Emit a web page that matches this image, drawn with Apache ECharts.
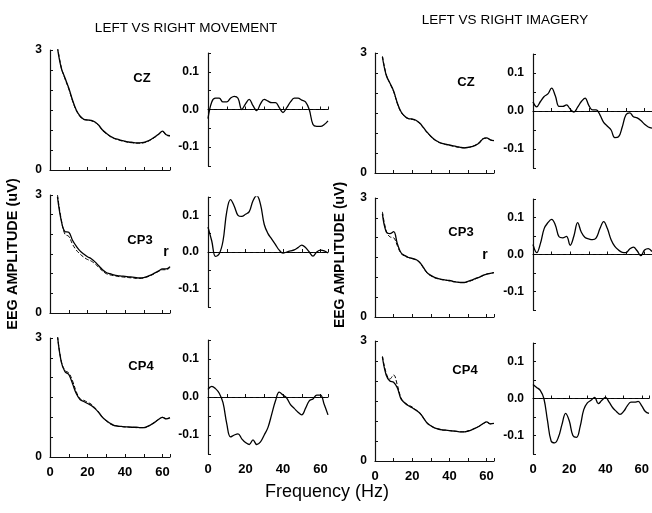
<!DOCTYPE html>
<html>
<head>
<meta charset="utf-8">
<script src="https://cdn.jsdelivr.net/npm/echarts@6/dist/echarts.min.js"></script>
<style>
  html, body { margin: 0; padding: 0; background: #fff; }
  #chart { width: 652px; height: 513px; }
</style>
</head>
<body>
<div id="chart"></div>
<script>
// frequencies (Hz)
const freqAmp = [4,6,8,10,12,14,16,18,20,22,24,26,28,30,32,34,36,38,40,42,44,46,48,50,52,54,56,58,60,62,64];
const freqR = [0,2,4,6,8,10,12,14,16,18,20,22,24,26,28,30,32,34,36,38,40,42,44,46,48,50,52,54,56,58,60,62,64];

// EEG amplitude (uV), left movement/imagery solid, right dashed
const movCzLeft  = [3.05,2.55,2.3,2.05,1.75,1.5,1.35,1.27,1.25,1.24,1.2,1.12,1.0,0.92,0.85,0.8,0.77,0.74,0.72,0.7,0.69,0.68,0.68,0.69,0.72,0.77,0.83,0.9,0.97,0.88,0.86];
const movCzRight = [3.08,2.57,2.28,2.03,1.73,1.49,1.34,1.26,1.25,1.23,1.19,1.11,0.99,0.91,0.84,0.79,0.76,0.73,0.71,0.69,0.68,0.67,0.67,0.68,0.71,0.76,0.82,0.89,0.96,0.87,0.85];
const movCp3Left  = [2.95,2.35,2.07,2.05,1.85,1.7,1.58,1.5,1.43,1.38,1.3,1.2,1.1,1.03,1.0,0.97,0.95,0.94,0.93,0.92,0.91,0.9,0.89,0.9,0.93,0.97,1.02,1.07,1.12,1.12,1.18];
const movCp3Right = [3.0,2.38,2.0,1.95,1.75,1.6,1.5,1.42,1.36,1.32,1.25,1.16,1.07,1.0,0.97,0.95,0.93,0.92,0.91,0.9,0.89,0.88,0.88,0.89,0.92,0.96,1.01,1.06,1.1,1.1,1.16];
const movCp4Left  = [3.05,2.4,2.15,2.08,1.85,1.6,1.45,1.4,1.35,1.3,1.22,1.12,1.0,0.92,0.85,0.8,0.78,0.77,0.76,0.76,0.75,0.75,0.74,0.74,0.77,0.82,0.88,0.95,1.0,0.96,0.99];
const movCp4Right = [3.05,2.42,2.18,2.12,1.92,1.65,1.47,1.43,1.38,1.33,1.24,1.13,1.0,0.91,0.84,0.8,0.78,0.77,0.76,0.75,0.75,0.74,0.74,0.74,0.77,0.82,0.88,0.95,1.0,0.97,0.99];
const imgCzLeft  = [2.9,2.45,2.25,2.05,1.75,1.53,1.42,1.36,1.35,1.32,1.25,1.14,1.02,0.92,0.84,0.78,0.74,0.72,0.7,0.68,0.66,0.64,0.63,0.64,0.66,0.69,0.75,0.85,0.88,0.83,0.81];
const imgCzRight = [2.92,2.47,2.24,2.04,1.74,1.52,1.41,1.36,1.34,1.31,1.24,1.13,1.01,0.91,0.83,0.77,0.74,0.71,0.69,0.67,0.65,0.64,0.63,0.64,0.66,0.7,0.76,0.86,0.87,0.83,0.8];
const imgCp3Left  = [2.6,2.15,2.1,2.15,1.85,1.62,1.55,1.5,1.48,1.45,1.38,1.25,1.12,1.05,1.0,0.97,0.95,0.93,0.92,0.9,0.88,0.87,0.87,0.9,0.93,0.97,1.0,1.05,1.08,1.1,1.12];
const imgCp3Right = [2.65,2.18,2.02,2.0,1.8,1.6,1.54,1.5,1.47,1.44,1.37,1.24,1.11,1.04,0.99,0.96,0.94,0.93,0.91,0.89,0.88,0.87,0.87,0.89,0.92,0.96,1.0,1.04,1.08,1.1,1.12];
const imgCp4Left  = [2.6,2.15,2.0,1.97,1.83,1.55,1.45,1.38,1.33,1.27,1.2,1.08,0.95,0.88,0.83,0.8,0.78,0.77,0.76,0.75,0.74,0.73,0.73,0.75,0.78,0.82,0.87,0.93,0.98,0.93,0.94];
const imgCp4Right = [2.62,2.2,2.05,2.15,1.9,1.58,1.46,1.4,1.35,1.28,1.21,1.08,0.95,0.88,0.83,0.8,0.78,0.77,0.76,0.75,0.74,0.73,0.73,0.75,0.78,0.82,0.87,0.93,0.97,0.93,0.94];

// correlation r, left vs right
const movCzR  = [-0.024,0.02,0.03,0.03,0.02,0.02,0.03,0.035,0.03,0.0,0.015,0.027,0.01,-0.003,0.015,0.027,0.022,0.018,0.018,0.005,-0.008,0.005,0.02,0.03,0.03,0.025,0.02,0.0,-0.04,-0.045,-0.045,-0.04,-0.03];
const movCp3R = [0.068,0.03,-0.012,-0.005,0.03,0.11,0.143,0.125,0.1,0.097,0.103,0.11,0.14,0.154,0.13,0.075,0.05,0.035,0.02,0.005,-0.003,0.0,0.003,0.006,0.012,0.019,0.012,0.0,-0.011,0.0,0.005,0.003,-0.003];
const movCp4R = [0.02,0.028,0.022,0.01,-0.015,-0.07,-0.105,-0.1,-0.097,-0.11,-0.12,-0.125,-0.113,-0.125,-0.118,-0.1,-0.08,-0.045,-0.01,0.013,0.005,-0.003,-0.02,-0.03,-0.04,-0.047,-0.03,-0.01,-0.005,0.005,0.005,-0.02,-0.047];
const imgCzR  = [0.024,0.011,0.025,0.038,0.045,0.06,0.04,0.012,0.012,0.016,0.005,-0.003,0.01,0.025,0.034,0.015,0.003,0.003,-0.01,-0.03,-0.04,-0.05,-0.07,-0.068,-0.042,-0.01,-0.005,-0.015,-0.018,-0.025,-0.035,-0.042,-0.045];
const imgCp3R = [0.027,0.005,0.03,0.07,0.086,0.095,0.08,0.048,0.045,0.049,0.025,0.05,0.086,0.06,0.046,0.042,0.04,0.045,0.07,0.089,0.07,0.04,0.022,0.012,0.006,0.005,0.015,0.02,0.01,-0.003,0.012,0.016,0.008];
const imgCp4R = [0.038,0.03,0.022,0.0,-0.06,-0.115,-0.12,-0.105,-0.07,-0.04,-0.06,-0.1,-0.105,-0.076,-0.03,-0.012,-0.005,0.003,-0.014,-0.005,0.003,-0.01,-0.025,-0.035,-0.043,-0.035,-0.02,-0.01,-0.01,-0.008,-0.02,-0.035,-0.04];

const xTicks = [0, 20, 40, 60];
const ampTicks = [0, 3];
const rTicks = [-0.1, 0.0, 0.1];
const electrodes = ['CZ', 'CP3', 'CP4'];

const FONT = 'Liberation Sans, Arial, Helvetica, sans-serif';

// panel layout: [left, top, width, height]
const panels = [
  // col 1: movement amplitude
  {box: [50, 50, 120, 120], kind: 'amp', lines: [movCzLeft, movCzRight]},
  {box: [50, 195, 120, 118], kind: 'amp', lines: [movCp3Left, movCp3Right]},
  {box: [50, 338, 120, 119], kind: 'amp', lines: [movCp4Left, movCp4Right], bottom: true},
  // col 2: movement r
  {box: [208, 53, 120, 113], kind: 'r', lines: [movCzR]},
  {box: [208, 197, 120, 110], kind: 'r', lines: [movCp3R]},
  {box: [208, 340, 120, 114], kind: 'r', lines: [movCp4R], bottom: true},
  // col 3: imagery amplitude
  {box: [375, 53, 119, 120], kind: 'amp', lines: [imgCzLeft, imgCzRight]},
  {box: [375, 198, 119, 119], kind: 'amp', lines: [imgCp3Left, imgCp3Right]},
  {box: [375, 341, 119, 120], kind: 'amp', lines: [imgCp4Left, imgCp4Right], bottom: true},
  // col 4: imagery r
  {box: [533, 54, 119, 114], kind: 'r', lines: [imgCzR]},
  {box: [533, 199, 119, 111], kind: 'r', lines: [imgCp3R]},
  {box: [533, 343, 119, 111], kind: 'r', lines: [imgCp4R], bottom: true}
];

const grid = [], xAxis = [], yAxis = [], series = [];
const axisLine = {lineStyle: {color: '#111', width: 1.2}};
const tick = {inside: true, length: 3, lineStyle: {color: '#111'}};

panels.forEach((p, i) => {
  grid.push({left: p.box[0], top: p.box[1], width: p.box[2], height: p.box[3]});
  xAxis.push({
    type: 'value', gridIndex: i, min: 0, max: 64, interval: 10,
    axisLine: axisLine, axisTick: tick, splitLine: {show: false},
    axisLabel: {
      show: !!p.bottom, margin: 9, color: '#000', fontFamily: FONT, fontWeight: 'bold', fontSize: 13,
      formatter: v => xTicks.indexOf(v) >= 0 ? String(v) : ''
    }
  });
  if (p.kind === 'amp') {
    yAxis.push({
      type: 'value', gridIndex: i, min: 0, max: 3, interval: 0.5,
      axisLine: axisLine, axisTick: tick, splitLine: {show: false},
      axisLabel: {
        margin: 8, color: '#000', fontFamily: FONT, fontWeight: 'bold', fontSize: 12,
        formatter: v => ampTicks.indexOf(v) >= 0 ? String(v) : ''
      }
    });
    p.lines.forEach((vals, k) => {
      series.push({
        type: 'line', xAxisIndex: i, yAxisIndex: i, symbol: 'none', smooth: 0.4,
        data: freqAmp.map((f, j) => [f, vals[j]]),
        lineStyle: {color: '#000', width: k === 0 ? 1.3 : 1, type: k === 0 ? 'solid' : [4, 2]}
      });
    });
  } else {
    yAxis.push({
      type: 'value', gridIndex: i, min: -0.15, max: 0.15, interval: 0.05,
      axisLine: axisLine, axisTick: tick, splitLine: {show: false},
      axisLabel: {
        margin: 9, color: '#000', fontFamily: FONT, fontWeight: 'bold', fontSize: 12,
        formatter: v => {
          const hit = rTicks.find(t => Math.abs(t - v) < 1e-9);
          return hit === undefined ? '' : hit.toFixed(1);
        }
      }
    });
    series.push({
      type: 'line', xAxisIndex: i, yAxisIndex: i, symbol: 'none', smooth: 0.4,
      data: freqR.map((f, j) => [f, p.lines[0][j]]),
      lineStyle: {color: '#000', width: 1.3},
      markLine: {
        silent: true, symbol: 'none', label: {show: false},
        lineStyle: {color: '#000', width: 1, type: [3, 3]},
        data: [{yAxis: 0}]
      }
    });
  }
});

const txt = (x, y, text, size, weight, rot) => ({
  type: 'text', x: x, y: y, rotation: rot || 0,
  style: {text: text, font: (weight || 'normal') + ' ' + size + 'px ' + FONT, fill: '#000',
          textAlign: 'center', textVerticalAlign: 'middle'}
});

const graphic = [
  txt(186, 28, 'LEFT VS RIGHT MOVEMENT', 13.5),
  txt(505, 20, 'LEFT VS RIGHT IMAGERY', 13.5),
  txt(142, 78, electrodes[0], 13, 'bold'),
  txt(140, 240, electrodes[1], 13, 'bold'),
  txt(141, 366, electrodes[2], 13, 'bold'),
  txt(466, 82, electrodes[0], 13, 'bold'),
  txt(461, 232, electrodes[1], 13, 'bold'),
  txt(465, 370, electrodes[2], 13, 'bold'),
  txt(13, 254, 'EEG AMPLITUDE (uV)', 14.5, 'bold', Math.PI / 2),
  txt(340, 255, 'EEG AMPLITUDE (uV)', 14, 'bold', Math.PI / 2),
  txt(166, 252, 'r', 14, 'bold'),
  txt(485, 255, 'r', 14, 'bold'),
  txt(327, 492, 'Frequency (Hz)', 18)
];

const chart = echarts.init(document.getElementById('chart'), null, {renderer: 'canvas'});
chart.setOption({
  animation: false,
  backgroundColor: '#fff',
  grid: grid,
  xAxis: xAxis,
  yAxis: yAxis,
  series: series,
  graphic: graphic
});
</script>
</body>
</html>
